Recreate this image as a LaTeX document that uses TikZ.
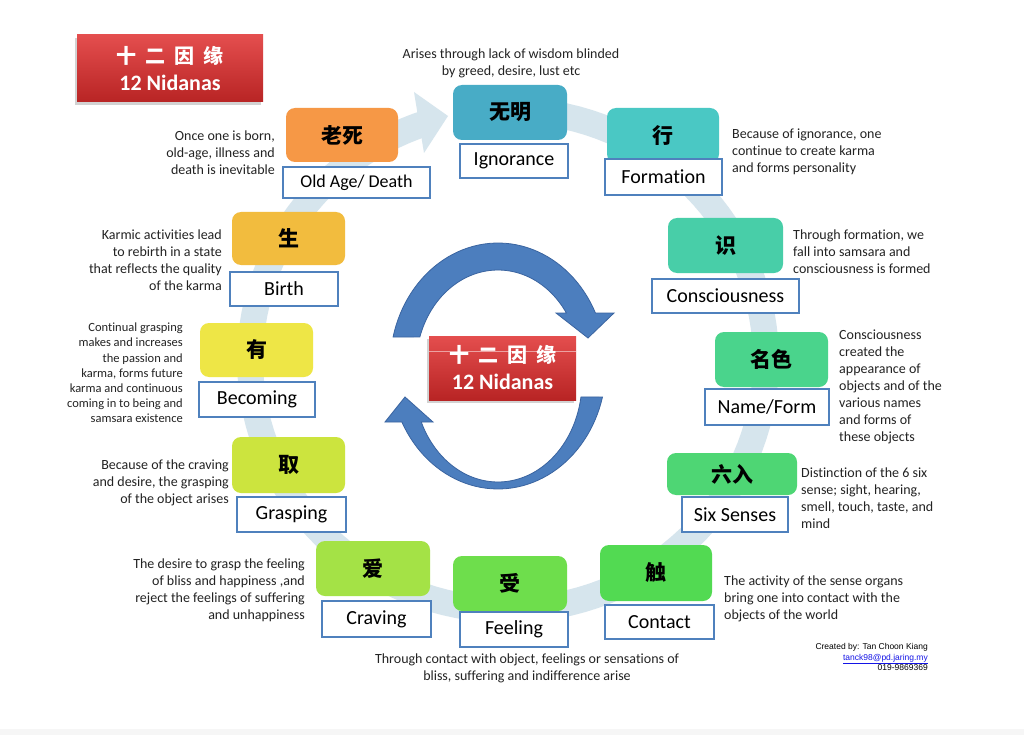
\documentclass[tikz,border=0pt]{standalone}
\usepackage{fontspec}
\setmainfont{Carlito}[Ligatures=NoCommon]
\newfontfamily\cjk{Noto Sans CJK SC}
\newfontfamily\arial{Liberation Sans}
\usetikzlibrary{shadows}

\definecolor{ringblue}{RGB}{214,229,237}
\definecolor{arrowblue}{RGB}{76,126,190}
\definecolor{arrowedge}{RGB}{58,100,160}
\definecolor{lineblue}{RGB}{79,129,189}
\definecolor{redtop}{RGB}{228,78,78}
\definecolor{redbot}{RGB}{184,36,36}
\definecolor{textdark}{RGB}{35,35,35}
\definecolor{linkblue}{RGB}{20,20,230}
\definecolor{stripgray}{RGB}{246,246,246}
\definecolor{cIgn}{RGB}{72,172,198}
\definecolor{cFor}{RGB}{74,200,196}
\definecolor{cCon}{RGB}{72,206,168}
\definecolor{cNam}{RGB}{74,212,140}
\definecolor{cSix}{RGB}{78,214,116}
\definecolor{cCnt}{RGB}{82,218,82}
\definecolor{cFee}{RGB}{110,222,76}
\definecolor{cCra}{RGB}{164,226,70}
\definecolor{cGra}{RGB}{204,228,62}
\definecolor{cBec}{RGB}{238,230,70}
\definecolor{cBir}{RGB}{242,188,62}
\definecolor{cOld}{RGB}{246,152,70}

\newcommand{\nidtitle}{{\cjk\fontsize{20}{27}\selectfont 十\hspace{9pt}二\hspace{9pt}因\hspace{9pt}缘}}

\tikzset{
  nidbox/.style={fill=#1, rounded corners=9pt, inner sep=0pt, text=black,
    font=\cjk\bfseries\fontsize{21}{21}\selectfont},
  namebox/.style={draw=lineblue, line width=2pt, fill=white, inner sep=0pt,
    font=\fontsize{20}{20}\selectfont},
  desc/.style={inner sep=0pt, text=textdark, font=\fontsize{14}{17}\selectfont},
  redbox/.style={top color=redtop, bottom color=redbot, inner sep=0pt, text=white,
    align=center, font=\bfseries\fontsize{22}{27}\selectfont,
    drop shadow={shadow xshift=-2pt, shadow yshift=-3pt, opacity=.35}},
  bigarrow/.style={fill=arrowblue, draw=arrowedge, line width=.8pt},
  ring/.style={draw=ringblue, line width=26pt},
}

\begin{document}
\begin{tikzpicture}[x=1pt,y=-1pt]
\useasboundingbox (0,0) rectangle (1024,735);
\fill[white] (0,0) rectangle (1024,735);
\fill[stripgray] (0,729) rectangle (1024,735);

% wheel behind the boxes
\draw[ring] plot[domain=-80:252, samples=120] ({508+258*cos(\x)},{360+250*sin(\x)});
\fill[ringblue] (414,92) -- (448,116) -- (424,153) -- cycle;

% the two round arrows in the middle
\draw[bigarrow] plot[domain=193.6:334.5, samples=50] ({498+108*cos(\x)},{366+123*sin(\x)})
  -- (614,313) -- (588,338) -- (556,313)
  -- plot[domain=326.5:197.6, samples=50] ({498+82*cos(\x)},{366+96*sin(\x)}) -- cycle;
\draw[bigarrow] plot[domain=14.6:152.9, samples=50] ({498+108*cos(\x)},{366+123*sin(\x)})
  -- (385,422) -- (405,397) -- (433,422)
  -- plot[domain=156.05:9.1, samples=50] ({498+84*cos(\x)},{381+101*sin(\x)}) -- cycle;

\node[redbox, minimum width=147pt, minimum height=64pt] (mid) at (502.5,368) {\nidtitle\\12 Nidanas};
\draw[white, opacity=.5, line width=.7pt] ([yshift=-16pt]mid.north west) -- ([yshift=-16pt]mid.north east);
\node[redbox, minimum width=186pt, minimum height=67pt] (title) at (170,68.5) {\nidtitle\\12 Nidanas};

% the twelve links
\node[nidbox=cIgn, minimum width=114pt, minimum height=55pt] (ign) at (510,112.5) {无明};
\node[namebox, minimum width=108pt, minimum height=34pt] (ignL) at (514,161) {Ignorance};
\node[desc, align=center] (ignT) at (511,63) {Arises through lack of wisdom blinded\\by greed, desire, lust etc};

\node[nidbox=cFor, minimum width=112pt, minimum height=55pt] (for) at (663,135.5) {行};
\node[namebox, minimum width=117pt, minimum height=36pt] (forL) at (663.5,177) {Formation};
\node[desc, align=left, anchor=west] (forT) at (732,152) {Because of ignorance, one\\continue to create karma\\and forms personality};

\node[nidbox=cCon, minimum width=115pt, minimum height=55pt] (con) at (725.5,245.5) {识};
\node[namebox, minimum width=147pt, minimum height=34pt] (conL) at (725.5,296) {Consciousness};
\node[desc, align=left, anchor=west] (conT) at (793,252) {Through formation, we\\fall into samsara and\\consciousness is formed};

\node[nidbox=cNam, minimum width=113pt, minimum height=55pt] (nam) at (771.5,359.5) {名色};
\node[namebox, minimum width=124pt, minimum height=36pt] (namL) at (767,407) {Name/Form};
\node[desc, align=left, anchor=west] (namT) at (839,386.5) {Consciousness\\created the\\appearance of\\objects and of the\\various names\\and forms of\\these objects};

\node[nidbox=cSix, minimum width=130pt, minimum height=42pt] (six) at (732,474) {六入};
\node[namebox, minimum width=106pt, minimum height=35pt] (sixL) at (735,514.5) {Six Senses};
\node[desc, align=left, anchor=west] (sixT) at (801,498) {Distinction of the 6 six\\sense; sight, hearing,\\smell, touch, taste, and\\mind};

\node[nidbox=cCnt, minimum width=112pt, minimum height=56pt] (cnt) at (656,573) {触};
\node[namebox, minimum width=109pt, minimum height=34pt] (cntL) at (659.5,622) {Contact};
\node[desc, align=left, anchor=west] (cntT) at (724,599) {The activity of the sense organs\\bring one into contact with the\\objects of the world};

\node[nidbox=cFee, minimum width=114pt, minimum height=55pt] (fee) at (510,583.5) {受};
\node[namebox, minimum width=108pt, minimum height=35pt] (feeL) at (514,629.5) {Feeling};
\node[desc, align=center] (feeT) at (527,668) {Through contact with object, feelings or sensations of\\bliss, suffering and indifference arise};

\node[nidbox=cCra, minimum width=114pt, minimum height=55pt] (cra) at (373,568.5) {爱};
\node[namebox, minimum width=109pt, minimum height=36pt] (craL) at (376.5,619) {Craving};
\node[desc, align=right, anchor=east] (craT) at (305,590.5) {The desire to grasp the feeling\\of bliss and happiness ,and\\reject the feelings of suffering\\and unhappiness};

\node[nidbox=cGra, minimum width=113pt, minimum height=56pt] (gra) at (288.5,465) {取};
\node[namebox, minimum width=109pt, minimum height=35pt] (graL) at (291.5,514.5) {Grasping};
\node[desc, align=right, anchor=east] (graT) at (229,483) {Because of the craving\\and desire, the grasping\\of the object arises};

\node[nidbox=cBec, minimum width=113pt, minimum height=54pt] (bec) at (256.5,350) {有};
\node[namebox, minimum width=116pt, minimum height=35pt] (becL) at (257,399.5) {Becoming};
\node[desc, align=right, anchor=east, font=\fontsize{12.5}{15.2}\selectfont] (becT) at (183,373) {Continual grasping\\makes and increases\\the passion and\\karma, forms future\\karma and continuous\\coming in to being and\\samsara existence};

\node[nidbox=cBir, minimum width=113pt, minimum height=53pt] (bir) at (288.5,238.5) {生};
\node[namebox, minimum width=108pt, minimum height=34pt] (birL) at (284,289) {Birth};
\node[desc, align=right, anchor=east] (birT) at (222,260) {Karmic activities lead\\to rebirth in a state\\that reflects the quality\\of the karma};

\node[nidbox=cOld, minimum width=112pt, minimum height=54pt] (old) at (342,135) {老死};
\node[namebox, minimum width=147pt, minimum height=31pt, font=\fontsize{18}{18}\selectfont] (oldL) at (356.5,182.5) {Old Age/ Death};
\node[desc, align=right, anchor=east] (oldT) at (275,153) {Once one is born,\\old-age, illness and\\death is inevitable};

% credits
\node[inner sep=0pt, align=right, anchor=east, font=\arial\fontsize{8.5}{10.5}\selectfont] (credit) at (928,657)
  {Created by: Tan Choon Kiang\\{\color{linkblue}\underline{tanck98@pd.jaring.my}}\\019-9869369};
\end{tikzpicture}
\end{document}
